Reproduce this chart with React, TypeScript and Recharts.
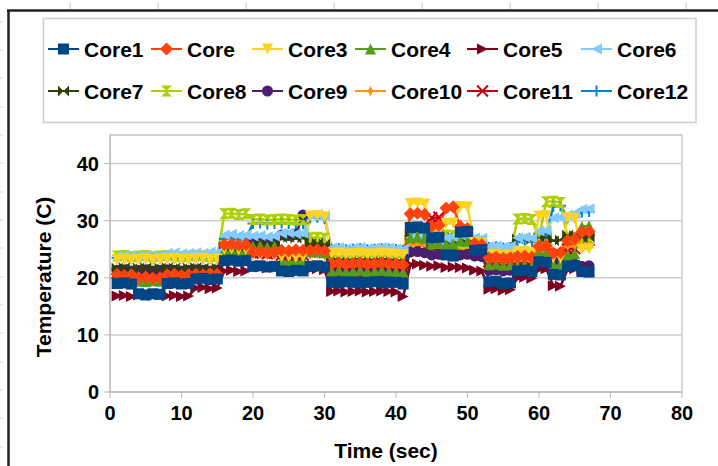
import React from "react";
import {
  LineChart,
  Line,
  XAxis,
  YAxis,
  CartesianGrid,
  ReferenceArea,
} from "recharts";

// time in seconds, one sample per second
const time = [
  1, 2, 3, 4, 5, 6, 7, 8, 9, 10, 11, 12, 13, 14, 15, 16, 17, 18, 19, 20, 21, 22,
  23, 24, 25, 26, 27, 28, 29, 30, 31, 32, 33, 34, 35, 36, 37, 38, 39, 40, 41, 42,
  43, 44, 45, 46, 47, 48, 49, 50, 51, 52, 53, 54, 55, 56, 57, 58, 59, 60, 61, 62,
  63, 64, 65, 66, 67,
];

const core1 = [
  19.0, 19.1, 18.9, 17.2, 17.0, 17.2, 17.1, 19.0, 19.1, 18.9, 19.0, 19.8, 19.9, 19.7, 19.8,
  23.0, 23.1, 22.9, 23.0, 22.0, 22.1, 21.9, 22.0, 21.2, 21.1, 21.3, 21.2, 22.0, 22.1, 21.9,
  19.2, 19.1, 19.3, 19.2, 19.1, 19.2, 19.3, 19.1, 19.2, 19.2, 18.9,
  28.8, 28.9, 28.7, 27.0, 27.1, 24.0, 23.8, 28.0, 28.1, 24.8, 24.9,
  19.3, 19.4, 19.0, 19.1, 21.2, 21.3, 21.1, 22.8, 22.7, 20.6, 20.5, 22.0, 22.1, 21.1, 21.0,
];
const core2 = [
  20.6, 20.4, 20.5, 20.0, 20.1, 19.9, 20.0, 20.5, 20.6, 20.4, 20.5, 20.6, 20.5, 20.7, 20.6,
  25.8, 25.9, 25.7, 25.8, 24.5, 24.6, 24.4, 24.5, 24.8, 24.7, 24.9, 24.8, 24.8, 24.9, 24.7,
  22.5, 22.6, 22.4, 22.5, 22.6, 22.4, 22.5, 22.6, 22.5, 22.4, 22.3,
  31.2, 31.3, 31.1, 29.0, 29.2, 32.2, 32.4, 29.0, 28.6, 26.0, 25.8,
  23.5, 23.6, 23.4, 23.5, 23.7, 23.8, 23.6, 25.5, 25.6, 24.3, 24.4, 26.5, 26.8, 28.0, 28.1,
];
const core3 = [
  23.2, 23.3, 23.1, 23.2, 23.3, 23.1, 23.2, 23.3, 23.4, 23.2, 23.3, 23.3, 23.4, 23.2, 23.3,
  25.0, 25.1, 24.9, 25.0, 24.0, 24.1, 23.9, 24.0, 23.7, 23.8, 23.6, 23.7, 30.8, 30.9, 30.7,
  24.2, 24.3, 24.1, 24.2, 24.3, 24.1, 24.2, 24.3, 24.2, 24.1, 24.0,
  33.0, 33.1, 32.9, 28.2, 28.0, 29.5, 29.6, 32.5, 32.4, 26.2, 26.0,
  24.0, 24.1, 23.9, 24.0, 24.5, 24.6, 24.4, 30.8, 30.9, 23.5, 23.4, 30.5, 30.4, 25.0, 25.1,
];
const core4 = [
  20.0, 20.1, 19.9, 19.4, 19.3, 19.5, 19.4, 20.0, 20.1, 19.9, 20.0, 20.1, 20.0, 20.2, 20.1,
  24.8, 24.9, 24.7, 24.8, 25.5, 25.6, 25.4, 25.5, 23.0, 22.9, 23.1, 23.0, 24.5, 24.6, 24.4,
  21.2, 21.3, 21.1, 21.2, 21.3, 21.1, 21.2, 21.3, 21.2, 21.1, 21.0,
  27.0, 27.1, 26.9, 26.0, 26.1, 25.8, 25.9, 26.5, 26.4, 25.5, 25.4,
  22.3, 22.4, 22.2, 22.3, 22.0, 22.1, 21.9, 24.5, 24.6, 22.3, 22.4, 24.0, 24.2, 29.0, 29.1,
];
const core5 = [
  16.8, 16.9, 16.7, 17.0, 17.1, 16.9, 17.0, 16.8, 16.9, 16.7, 16.8, 18.2, 18.3, 18.1, 18.2,
  21.2, 21.3, 21.1, 21.2, 21.8, 21.9, 21.7, 21.8, 21.2, 21.3, 21.1, 21.2, 21.5, 21.6, 21.4,
  17.6, 17.7, 17.5, 17.6, 17.7, 17.5, 17.6, 17.7, 17.6, 17.5, 16.7,
  22.3, 22.4, 22.2, 22.0, 22.1, 21.8, 21.9, 21.8, 21.7, 21.3, 21.2,
  18.0, 18.1, 17.8, 17.9, 20.0, 20.1, 19.9, 21.5, 21.6, 18.6, 18.5, 21.5, 21.6, 21.5, 21.4,
];
const core6 = [
  23.9, 24.0, 23.8, 23.9, 24.0, 23.8, 23.9, 24.3, 24.4, 24.2, 24.3, 24.4, 24.3, 24.5, 24.4,
  27.5, 27.6, 27.4, 27.5, 27.3, 27.4, 27.2, 27.3, 27.8, 27.9, 27.7, 27.8, 31.0, 31.1, 30.9,
  25.2, 25.3, 25.1, 25.2, 25.3, 25.1, 25.2, 25.3, 25.2, 25.1, 25.0,
  27.0, 27.1, 26.9, 26.0, 26.1, 27.0, 27.1, 27.5, 27.4, 27.0, 26.9,
  25.5, 25.6, 25.4, 25.5, 27.0, 27.1, 26.9, 28.2, 28.3, 30.5, 30.6, 31.0, 31.3, 32.0, 32.1,
];
const core7 = [
  21.7, 21.8, 21.6, 21.7, 21.8, 21.6, 21.7, 21.8, 21.7, 21.6, 21.7, 21.8, 21.7, 21.6, 21.7,
  25.0, 25.1, 24.9, 25.0, 25.8, 25.9, 25.7, 25.8, 27.0, 27.1, 26.9, 27.0, 26.0, 26.1, 25.9,
  22.7, 22.8, 22.6, 22.7, 22.8, 22.6, 22.7, 22.8, 22.7, 22.6, 22.5,
  27.5, 27.6, 27.4, 25.5, 25.6, 27.0, 27.1, 26.5, 26.4, 25.0, 24.9,
  24.0, 24.1, 23.9, 24.0, 26.8, 26.9, 26.7, 27.0, 27.1, 26.5, 26.6, 27.5, 27.4, 27.0, 27.1,
];
const core8 = [
  23.8, 23.9, 23.7, 23.8, 23.9, 23.7, 23.8, 23.9, 23.8, 23.7, 23.8, 23.9, 23.8, 23.7, 23.8,
  31.2, 31.3, 31.1, 31.2, 30.2, 30.3, 30.1, 30.2, 30.3, 30.2, 30.1, 30.2, 27.0, 27.1, 26.9,
  23.8, 23.9, 23.7, 23.8, 23.9, 23.7, 23.8, 23.9, 23.8, 23.7, 23.6,
  27.0, 27.1, 26.9, 26.5, 26.6, 27.5, 27.4, 26.0, 26.1, 25.5, 25.4,
  24.5, 24.6, 24.4, 24.5, 30.3, 30.4, 30.2, 27.0, 33.3, 33.4, 33.2, 27.0, 27.1, 26.0, 26.1,
];
const core9 = [
  21.3, 21.4, 21.2, 21.3, 21.4, 21.2, 21.3, 21.4, 21.3, 21.2, 21.3, 21.4, 21.3, 21.2, 21.3,
  24.5, 24.6, 24.4, 24.5, 26.0, 26.1, 25.9, 26.0, 27.5, 27.4, 27.6, 31.0, 25.5, 25.6, 25.4,
  20.8, 20.9, 20.7, 20.8, 20.9, 20.7, 20.8, 20.9, 20.8, 20.7, 20.6,
  24.5, 24.6, 24.4, 24.0, 24.1, 24.5, 24.4, 24.0, 24.1, 23.8, 23.7,
  21.3, 21.4, 21.2, 21.3, 21.5, 21.6, 21.4, 22.5, 22.6, 23.0, 23.1, 22.5, 22.4, 22.0, 22.1,
];
const core10 = [
  21.0, 21.1, 20.9, 21.0, 21.1, 20.9, 21.0, 21.1, 21.0, 20.9, 21.0, 21.1, 21.0, 20.9, 21.0,
  25.5, 25.6, 25.4, 25.5, 24.0, 24.1, 23.9, 24.0, 24.3, 24.4, 24.2, 24.3, 24.0, 24.1, 23.9,
  22.0, 22.1, 21.9, 22.0, 22.1, 21.9, 22.0, 22.1, 22.0, 21.9, 21.8,
  25.7, 25.8, 25.6, 25.0, 25.1, 25.5, 25.4, 25.0, 25.1, 24.5, 24.4,
  23.0, 23.1, 22.9, 23.0, 23.0, 23.1, 22.9, 24.5, 24.6, 24.0, 24.1, 25.5, 25.6, 26.0, 26.1,
];
const core11 = [
  20.8, 20.9, 20.7, 20.8, 20.9, 20.7, 20.8, 20.9, 20.8, 20.7, 20.8, 20.9, 20.8, 20.7, 20.8,
  25.2, 25.3, 25.1, 25.2, 24.3, 24.4, 24.2, 24.3, 24.0, 24.1, 23.9, 24.0, 24.5, 24.6, 24.4,
  22.2, 22.3, 22.1, 22.2, 22.3, 22.1, 22.2, 22.3, 22.2, 22.1, 22.0,
  26.5, 26.6, 26.4, 30.5, 30.6, 26.0, 26.1, 25.5, 25.4, 24.5, 24.4,
  22.8, 22.9, 22.7, 22.8, 23.0, 23.1, 22.9, 24.0, 24.1, 24.0, 24.1, 25.0, 25.1, 26.5, 26.6,
];
const core12 = [
  23.5, 23.6, 23.4, 23.5, 23.6, 23.4, 23.5, 23.6, 23.5, 23.4, 23.5, 23.6, 23.5, 23.4, 23.5,
  26.8, 26.9, 26.7, 26.8, 29.5, 29.6, 29.4, 29.5, 29.6, 29.5, 29.4, 29.5, 30.5, 30.6, 30.4,
  25.0, 25.1, 24.9, 25.0, 25.1, 24.9, 25.0, 25.1, 25.0, 24.9, 24.8,
  27.0, 27.1, 26.9, 26.5, 26.6, 26.0, 26.1, 27.0, 27.1, 26.5, 26.4,
  25.3, 25.4, 25.2, 25.3, 26.5, 26.6, 26.4, 27.5, 27.6, 32.5, 32.6, 30.5, 30.6, 31.5, 31.6,
];

const seriesNames = [
  "Core1", "Core", "Core3", "Core4", "Core5", "Core6",
  "Core7", "Core8", "Core9", "Core10", "Core11", "Core12",
];
const seriesValues = [
  core1, core2, core3, core4, core5, core6,
  core7, core8, core9, core10, core11, core12,
];
const colors = [
  "#004586", "#ff420e", "#ffd320", "#579d1c", "#7e0021", "#83caff",
  "#314004", "#aecf00", "#4b1f6f", "#ff950e", "#c5000b", "#0084d1",
];
const shapes = [
  "square", "diamond", "down", "up", "right", "left",
  "bowtie", "hourglass", "circle", "star", "cross", "plus",
];

const xTicks = [0, 10, 20, 30, 40, 50, 60, 70, 80];
const yTicks = [0, 10, 20, 30, 40];

const data = time.map((t, i) => {
  const row: Record<string, number> = { t };
  seriesValues.forEach((vals, s) => {
    row["c" + s] = vals[i];
  });
  return row;
});

const FONT = '"Liberation Sans", Arial, sans-serif';

function Marker({ shape, x, y, color, s }: { shape: string; x: number; y: number; color: string; s: number }) {
  switch (shape) {
    case "square":
      return <rect x={x - s} y={y - s} width={2 * s} height={2 * s} fill={color} />;
    case "diamond":
      return <polygon points={`${x},${y - s * 1.2} ${x + s * 1.2},${y} ${x},${y + s * 1.2} ${x - s * 1.2},${y}`} fill={color} />;
    case "down":
      return <polygon points={`${x - s},${y - s} ${x + s},${y - s} ${x},${y + s}`} fill={color} />;
    case "up":
      return <polygon points={`${x},${y - s} ${x + s},${y + s} ${x - s},${y + s}`} fill={color} />;
    case "right":
      return <polygon points={`${x - s},${y - s} ${x + s},${y} ${x - s},${y + s}`} fill={color} />;
    case "left":
      return <polygon points={`${x + s},${y - s} ${x - s},${y} ${x + s},${y + s}`} fill={color} />;
    case "bowtie":
      return (
        <polygon
          points={`${x - s},${y - s} ${x},${y} ${x + s},${y - s} ${x + s},${y + s} ${x},${y} ${x - s},${y + s}`}
          fill={color}
        />
      );
    case "hourglass":
      return (
        <polygon
          points={`${x - s},${y - s} ${x + s},${y - s} ${x},${y} ${x + s},${y + s} ${x - s},${y + s} ${x},${y}`}
          fill={color}
        />
      );
    case "circle":
      return <circle cx={x} cy={y} r={s} fill={color} />;
    case "star": {
      const k = s * 0.3;
      return (
        <polygon
          points={`${x},${y - s} ${x + k},${y - k} ${x + s},${y} ${x + k},${y + k} ${x},${y + s} ${x - k},${y + k} ${x - s},${y} ${x - k},${y - k}`}
          fill={color}
        />
      );
    }
    case "cross":
      return (
        <g stroke={color} strokeWidth={2}>
          <line x1={x - s} y1={y - s} x2={x + s} y2={y + s} />
          <line x1={x - s} y1={y + s} x2={x + s} y2={y - s} />
        </g>
      );
    default:
      return (
        <g stroke={color} strokeWidth={2}>
          <line x1={x - s} y1={y} x2={x + s} y2={y} />
          <line x1={x} y1={y - s} x2={x} y2={y + s} />
        </g>
      );
  }
}

const legendCols = [48, 151, 252, 355, 467, 581];
const legendRows = [49, 91];

function Overlay() {
  return (
    <svg
      width={718}
      height={466}
      style={{ position: "absolute", left: 0, top: 0, pointerEvents: "none", fontFamily: FONT }}
    >
      {/* sheet ruler marks */}
      {[70, 158, 246, 334, 422, 510, 598, 686].map((x) => (
        <line key={"r" + x} x1={x} y1={3} x2={x} y2={9} stroke="#c4c4c4" strokeWidth={1} />
      ))}
      {[22, 50, 78, 107, 135, 163, 192, 220, 248, 277, 305, 333, 362, 390, 418, 447].map((y) => (
        <line key={"l" + y} x1={0} y1={y} x2={3} y2={y} stroke="#d0d0d0" strokeWidth={1} />
      ))}
      {/* frame */}
      <line x1={7} y1={10.5} x2={718} y2={10.5} stroke="#222" strokeWidth={2.5} />
      <line x1={8.5} y1={10} x2={8.5} y2={466} stroke="#222" strokeWidth={2.5} />

      {/* legend */}
      <rect x={43.5} y={18.5} width={652.5} height={104} fill="#fff" stroke="#cfcfcf" strokeWidth={1.5} />
      {seriesNames.map((name, i) => {
        const x = legendCols[i % 6];
        const y = legendRows[Math.floor(i / 6)];
        return (
          <g key={name}>
            <line x1={x} y1={y} x2={x + 31} y2={y} stroke={colors[i]} strokeWidth={2} />
            <Marker shape={shapes[i]} x={x + 15.5} y={y} color={colors[i]} s={5.5} />
            <text x={x + 36} y={y} dominantBaseline="central" fontSize={21} fontWeight="bold" fill="#000">
              {name}
            </text>
          </g>
        );
      })}

      {/* axis titles */}
      <text x={386} y={450} textAnchor="middle" dominantBaseline="central" fontSize={21} fontWeight="bold" fill="#000">
        Time (sec)
      </text>
      <text
        x={43}
        y={277}
        textAnchor="middle"
        dominantBaseline="central"
        fontSize={21}
        fontWeight="bold"
        fill="#000"
        transform="rotate(-90 43 277)"
      >
        Temperature (C)
      </text>
    </svg>
  );
}

export default function App() {
  const tickStyle = { fill: "#000", fontSize: 20, fontWeight: "bold" as const, fontFamily: FONT };
  return (
    <div
      style={{
        position: "absolute",
        left: 0,
        top: 0,
        width: 718,
        height: 466,
        background: "#fff",
        overflow: "hidden",
        fontFamily: FONT,
      }}
    >
      <LineChart
        width={718}
        height={466}
        data={data}
        margin={{ top: 135, right: 36, bottom: 4, left: 0 }}
        style={{ position: "absolute", left: 0, top: 0 }}
      >
        <CartesianGrid vertical={false} stroke="#cccccc" strokeWidth={1.5} />
        <ReferenceArea x1={0} x2={80} y1={0} y2={45} fill="none" stroke="#cccccc" strokeWidth={1.5} />
        <XAxis
          dataKey="t"
          type="number"
          domain={[0, 80]}
          ticks={xTicks}
          height={70}
          tick={tickStyle}
          tickSize={6}
          tickMargin={8}
          stroke="#b8b8b8"
          interval={0}
        />
        <YAxis
          type="number"
          domain={[0, 45]}
          ticks={yTicks}
          width={110}
          tick={tickStyle}
          tickSize={6}
          tickMargin={5}
          stroke="#b8b8b8"
          interval={0}
        />
        {seriesNames
          .map((name, i) => ({ name, i }))
          .reverse()
          .map(({ name, i }) => (
            <Line
              key={name}
              dataKey={"c" + i}
              name={name}
              type="linear"
              stroke={colors[i]}
              strokeWidth={2.5}
              isAnimationActive={false}
              activeDot={false}
              dot={(p: any) => {
                if (p.cx == null || p.cy == null) return <g key={name + "-" + p.index} />;
                return (
                  <g key={name + "-" + p.index}>
                    <Marker shape={shapes[i]} x={p.cx} y={p.cy} color={colors[i]} s={5.5} />
                  </g>
                );
              }}
            />
          ))}
      </LineChart>
      <Overlay />
    </div>
  );
}
